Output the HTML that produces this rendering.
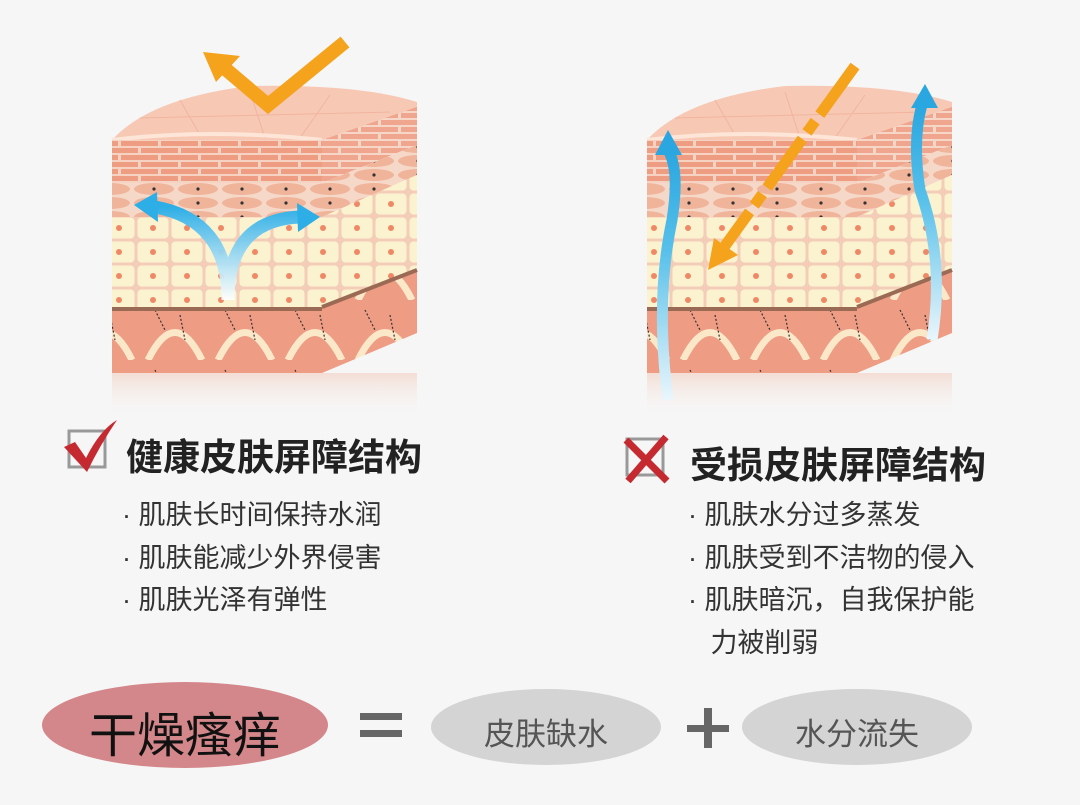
<!DOCTYPE html>
<html><head><meta charset="utf-8"><style>
html,body{margin:0;padding:0;background:#f6f6f6;}
body{width:1080px;height:805px;position:relative;overflow:hidden;font-family:"Liberation Sans","Noto Sans CJK SC",sans-serif;}
.t{position:absolute;white-space:nowrap;color:#222;}
</style></head><body>
<svg width="1080" height="805" style="position:absolute;left:0;top:0">
<defs>
<pattern id="brick" width="40" height="14" patternUnits="userSpaceOnUse">
<rect width="40" height="14" fill="#f6d2c2"/>
<rect x="1" y="1" width="37" height="5" fill="#ee9c82"/>
<rect x="-19" y="8" width="37" height="5" fill="#ee9c82"/><rect x="21" y="8" width="37" height="5" fill="#ee9c82"/>
</pattern>
<pattern id="oval" width="44" height="14" patternUnits="userSpaceOnUse">
<rect width="44" height="14" fill="#f6d8c8"/>
<ellipse cx="22" cy="7" rx="20" ry="6" fill="#f0b49a"/><circle cx="22" cy="7" r="1.6" fill="#333"/>
</pattern>
<pattern id="cell" width="34" height="24" patternUnits="userSpaceOnUse">
<rect width="34" height="24" fill="#f3cdb8"/>
<rect x="1.5" y="1.5" width="31" height="21" rx="4" fill="#fbf3cf"/><circle cx="17" cy="12" r="3" fill="#ef8866"/>
</pattern>
<pattern id="derm" width="70" height="60" patternUnits="userSpaceOnUse">
<rect width="70" height="60" fill="#ee9c84"/>
<path d="M8 60 Q35 5 62 60" stroke="#fbe8c8" stroke-width="7" fill="none"/>
<path d="M15 10 l10 20 M40 15 l5 25" stroke="#333" stroke-width="1.2" stroke-dasharray="2 2"/>
</pattern>
<linearGradient id="blu" x1="0" y1="1" x2="0" y2="0"><stop offset="0" stop-color="#fff" stop-opacity=".9"/><stop offset="1" stop-color="#2eaee6"/></linearGradient>
<linearGradient id="blu2" x1="0" y1="1" x2="0" y2="0"><stop offset="0" stop-color="#eaf6fc"/><stop offset=".6" stop-color="#57c0ea"/><stop offset="1" stop-color="#2aa6e0"/></linearGradient>
<linearGradient id="refl" x1="0" y1="0" x2="0" y2="1"><stop offset="0" stop-color="#f3d3c6" stop-opacity=".7"/><stop offset="1" stop-color="#f6f6f6" stop-opacity="0"/></linearGradient>
<g id="cube">
<rect x="112" y="373" width="305" height="45" fill="url(#refl)"/>
<path d="M112 140 Q150 98 250 86 Q360 84 417 102 L417 108 L322 140 Z" fill="#f7c9b5"/>
<path d="M140 118 L390 112 M180 100 L200 135 M250 92 L265 138 M330 95 L300 138" stroke="#f1b49e" stroke-width="1" fill="none"/>
<path d="M112 140 Q210 128 322 140" stroke="#fde6d8" stroke-width="4" fill="none"/>
<rect x="112" y="140" width="210" height="43" fill="url(#brick)"/>
<rect x="112" y="183" width="210" height="34" fill="url(#oval)"/>
<rect x="112" y="217" width="210" height="90" fill="url(#cell)"/>
<rect x="112" y="307" width="210" height="4" fill="#9b6a55"/>
<rect x="112" y="311" width="210" height="62" fill="url(#derm)"/>
<path d="M322 140 L417 107 L417 145 L322 183Z" fill="url(#brick)" opacity=".9"/>
<path d="M322 183 L417 145 L417 175 L322 217Z" fill="url(#oval)"/>
<path d="M322 217 L417 175 L417 270 L322 307Z" fill="url(#cell)"/>
<path d="M322 307 L417 270 L417 333 L322 373Z" fill="url(#derm)"/>
<path d="M322 307 L417 270" stroke="#9b6a55" stroke-width="4"/>
</g>
</defs>
<use href="#cube"/>
<use href="#cube" x="535"/>
<path d="M262 105 L290 90 L310 112" fill="#f7c9b5"/>
<!-- left arrows -->
<path d="M345 42 L268 105 L222 66" stroke="#f5a21c" stroke-width="14" fill="none"/>
<polygon points="203,52 240,56 216,82" fill="#f5a21c"/>
<path d="M228 300 Q228 220 155 207 M228 300 Q228 220 300 217" stroke="url(#blu)" stroke-width="13" fill="none"/>
<polygon points="134,205 157,192 158,222" fill="#2eaee6"/>
<polygon points="320,217 297,203 298,232" fill="#2eaee6"/>
<!-- right arrows -->
<path d="M855 66 L722 250" stroke="#f5a21c" stroke-width="11" stroke-dasharray="60 8 14 8" fill="none"/>
<polygon points="708,270 714,238 738,255" fill="#f5a21c"/>
<path d="M668 400 Q655 300 672 220 Q680 170 668 150" stroke="url(#blu2)" stroke-width="11" fill="none"/>
<polygon points="668,130 655,155 682,155" fill="#2aa6e0"/>
<path d="M932 340 Q945 260 920 190 Q912 140 922 105" stroke="url(#blu2)" stroke-width="11" fill="none"/>
<polygon points="925,84 911,108 938,108" fill="#2aa6e0"/>
<!-- check -->
<rect x="69" y="431" width="36" height="36" fill="none" stroke="#999" stroke-width="3"/>
<path d="M64 447 L75 442 L86 458 Q100 430 117 420 Q100 445 87 472 Z" fill="#c42a30"/>
<!-- X -->
<rect x="627" y="439" width="36" height="36" fill="none" stroke="#999" stroke-width="3"/>
<path d="M626 440 L667 481 M666 437 L628 481" stroke="#c42a30" stroke-width="7"/>
<!-- bottom -->
<ellipse cx="185" cy="725" rx="143" ry="43" fill="#d4878a"/>
<rect x="360" y="713" width="42" height="7" fill="#666"/><rect x="360" y="730" width="42" height="7" fill="#666"/>
<ellipse cx="546" cy="727" rx="115" ry="38" fill="#d4d4d4"/>
<rect x="687" y="725" width="42" height="7" fill="#666"/><rect x="704" y="708" width="8" height="40" fill="#666"/>
<ellipse cx="857" cy="727" rx="115" ry="38" fill="#d4d4d4"/>
</svg>
<div class="t" style="left:126px;top:427px;font-size:37px;font-weight:bold;">健康皮肤屏障结构</div>
<div class="t" style="left:690px;top:435px;font-size:37px;font-weight:bold;">受损皮肤屏障结构</div>
<div class="t" style="left:122px;top:494px;font-size:27px;line-height:42.5px;color:#333">· 肌肤长时间保持水润<br>· 肌肤能减少外界侵害<br>· 肌肤光泽有弹性</div>
<div class="t" style="left:688px;top:494px;font-size:27px;line-height:42.5px;color:#333">· 肌肤水分过多蒸发<br>· 肌肤受到不洁物的侵入<br>· 肌肤暗沉，自我保护能<br>&nbsp;&nbsp; 力被削弱</div>
<div class="t" style="left:85px;top:696px;font-size:48px;color:#111;width:200px;text-align:center">干燥瘙痒</div>
<div class="t" style="left:446px;top:709px;font-size:31px;color:#555;width:200px;text-align:center">皮肤缺水</div>
<div class="t" style="left:757px;top:709px;font-size:31px;color:#555;width:200px;text-align:center">水分流失</div>
</body></html>
